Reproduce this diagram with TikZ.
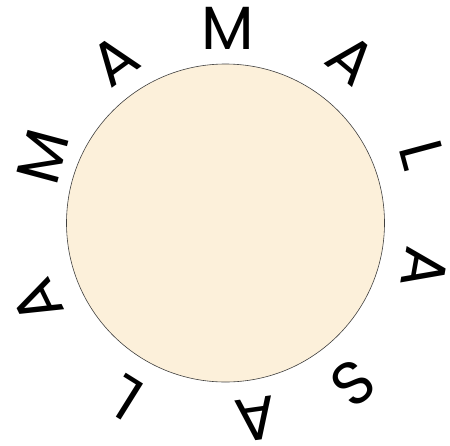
\documentclass[tikz,border=0pt]{standalone}
\usepackage{fontspec}
\setmainfont{Poppins}
\definecolor{parch}{RGB}{252,240,218}
\begin{document}
\begin{tikzpicture}[x=1pt,y=-1pt,
  letter/.style={inner sep=0pt, font=\fontsize{61}{61}\selectfont}]
\useasboundingbox (0,0) rectangle (450,445);
\node[circle, draw=black!75, fill=parch, minimum size=318pt, inner sep=0pt, line width=0.6pt] (disk) at (225.5,223) {};
\node[letter, rotate=0]    (l1)  at (228,28)  {M};
\node[letter, rotate=-40]  (l2)  at (352,60)  {A};
\node[letter, rotate=-75]  (l3)  at (422,155) {L};
\node[letter, rotate=-100] (l4)  at (425,268) {A};
\node[letter, rotate=-141] (l5)  at (353,383) {S};
\node[letter, rotate=-172] (l6)  at (256,419) {A};
\node[letter, rotate=148]  (l7)  at (125,398) {L};
\node[letter, rotate=116]  (l8)  at (37,302)  {A};
\node[letter, rotate=75]   (l9)  at (43,157)  {M};
\node[letter, rotate=36]   (l10) at (115,60)  {A};
\end{tikzpicture}
\end{document}
